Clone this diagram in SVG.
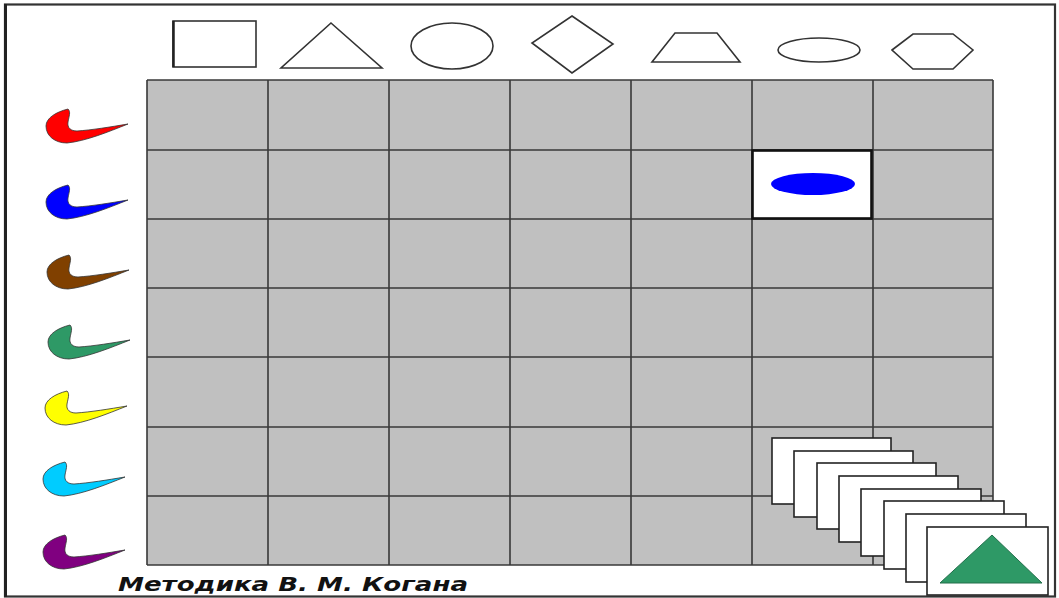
<svg xmlns="http://www.w3.org/2000/svg" width="1059" height="598" viewBox="0 0 1059 598">
<defs>
<style>
.shape{fill:#fff;stroke:#333;stroke-width:1.6}
.gl{stroke:#383838;stroke-width:1.6}
.card{fill:#fff;stroke:#222;stroke-width:1.6}
.sw{stroke:#333;stroke-width:0.8}
</style>
<path id="swoosh" d="M22,-15 C10,-12 0,-6 0,2 C0,12 9,19 21,19 C40,17 62,8 82,0 C64,3 46,6 31,7 C25,7 21,4 22,-2 C23,-8 25,-12 22,-15 Z"/>
</defs>
<rect x="0" y="0" width="1059" height="598" fill="#fff"/>
<g id="frame">
<rect x="5" y="4.5" width="1050" height="592" fill="#fff" stroke="#333" stroke-width="2.2"/>
<line x1="5.5" y1="4" x2="5.5" y2="597" stroke="#222" stroke-width="3"/>
</g>
<g id="header-shapes">
<rect class="shape" x="173" y="21" width="83" height="46"/>
<line x1="173.5" y1="21" x2="173.5" y2="67" stroke="#222" stroke-width="2.5"/>
<polygon class="shape" points="331,23 382,68 281,68"/>
<ellipse class="shape" cx="452" cy="46" rx="41" ry="23"/>
<polygon class="shape" points="572,16 613,44 572,73 532,43"/>
<polygon class="shape" points="675,33 717,33 740,62 652,62"/>
<ellipse class="shape" cx="819" cy="50" rx="41" ry="12"/>
<polygon class="shape" points="892,50 913,34 953,34 973,50 953,69 913,69"/>
</g>
<g id="grid">
<rect x="147" y="80" width="846" height="485" fill="#c0c0c0"/>
<g class="gl">
<line x1="147" y1="80" x2="147" y2="565"/>
<line x1="268" y1="80" x2="268" y2="565"/>
<line x1="389" y1="80" x2="389" y2="565"/>
<line x1="510" y1="80" x2="510" y2="565"/>
<line x1="631" y1="80" x2="631" y2="565"/>
<line x1="752" y1="80" x2="752" y2="565"/>
<line x1="873" y1="80" x2="873" y2="565"/>
<line x1="993" y1="80" x2="993" y2="565"/>
<line x1="147" y1="80" x2="993" y2="80"/>
<line x1="147" y1="150" x2="993" y2="150"/>
<line x1="147" y1="219" x2="993" y2="219"/>
<line x1="147" y1="288" x2="993" y2="288"/>
<line x1="147" y1="357" x2="993" y2="357"/>
<line x1="147" y1="427" x2="993" y2="427"/>
<line x1="147" y1="496" x2="993" y2="496"/>
<line x1="147" y1="565" x2="993" y2="565"/>
</g>
</g>
<g id="selected-cell">
<rect x="752.5" y="150.5" width="119" height="68" fill="#fff" stroke="#111" stroke-width="2.6"/>
<ellipse cx="813" cy="184" rx="42" ry="11" fill="#0000ff"/>
</g>
<g id="colors">
<use href="#swoosh" class="sw" fill="#ff0000" transform="translate(46,124)"/>
<use href="#swoosh" class="sw" fill="#0000ff" transform="translate(46,200)"/>
<use href="#swoosh" class="sw" fill="#804000" transform="translate(47,270)"/>
<use href="#swoosh" class="sw" fill="#2e9966" transform="translate(48,340)"/>
<use href="#swoosh" class="sw" fill="#ffff00" transform="translate(45,406)"/>
<use href="#swoosh" class="sw" fill="#00ccff" transform="translate(43,477)"/>
<use href="#swoosh" class="sw" fill="#800080" transform="translate(43,550)"/>
</g>
<g id="card-stack">
<rect class="card" x="772" y="438" width="119" height="66"/>
<rect class="card" x="794" y="451" width="119" height="66"/>
<rect class="card" x="817" y="463" width="119" height="66"/>
<rect class="card" x="839" y="476" width="119" height="66"/>
<rect class="card" x="861" y="489" width="120" height="67"/>
<rect class="card" x="884" y="501" width="120" height="68"/>
<rect class="card" x="906" y="514" width="120" height="68"/>
<rect class="card" x="927" y="527" width="121" height="68"/>
<polygon points="992,535 1042,583 940,583" fill="#2e9966" stroke="#226f4b" stroke-width="1"/>
</g>
<g id="caption">
<text x="118" y="591" font-family="DejaVu Sans, sans-serif" font-weight="bold" font-style="italic" font-size="19" fill="#111" textLength="350" lengthAdjust="spacingAndGlyphs">Методика В. М. Когана</text>
</g>
</svg>
